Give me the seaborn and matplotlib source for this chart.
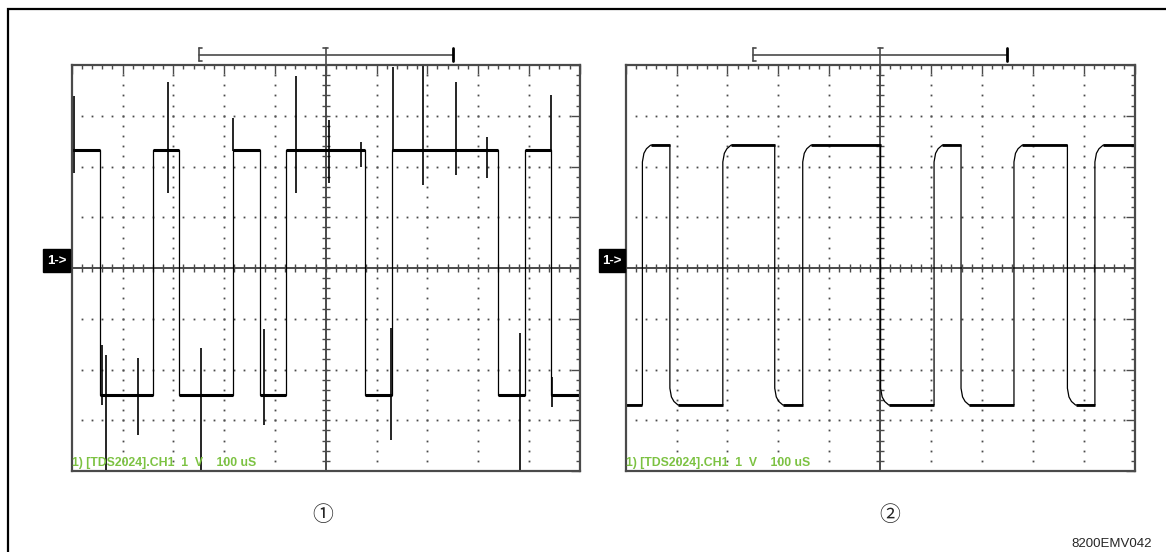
import numpy as np
import matplotlib
matplotlib.use('Agg')
import matplotlib.pyplot as plt
from matplotlib.patches import Rectangle
import seaborn as sns

# time in us (100 us/div, screen centre = 0), level in V (1 V/div)
t_span = [-500, 500]

# screen 1 (noisy signal): switching times, trace starts high
edges_1 = [-444, -340, -288, -182, -130, -78, 77, 131, 340, 393, 444]
high_1 = 2.33
low_1 = -2.50
# glitches on screen 1: time, lower end, upper end
glitch_t_1 = [-496, -310, -182, -59, 7, 69, 133, 192, 257, 318, 443,
              -441, -432, -370, -245, -121, 129, 383, 446]
glitch_lo_1 = [1.87, 1.47, 2.30, 1.47, 1.67, 2.00, 2.30, 1.64, 1.83, 1.77, 2.30,
               -2.70, -3.98, -3.29, -3.98, -3.09, -3.39, -3.98, -2.73]
glitch_hi_1 = [3.38, 3.67, 2.95, 3.78, 2.92, 2.49, 3.97, 3.99, 3.67, 2.59, 3.41,
               -1.52, -1.71, -1.78, -1.58, -1.21, -1.19, -1.29, -2.14]

# screen 2 (filtered signal): switching times, trace starts low
edges_2 = [-467, -413, -309, -207, -152, 1, 106, 159, 263, 368, 422]
high_2 = 2.42
low_2 = -2.70

scope_text = '1) [TDS2024].CH1  1  V    100 uS'
labels = ['\u2460', '\u2461']
doc_id = '8200EMV042'

GRID = '#4a4a4a'
GREEN = '#7cc242'
W, H = 1166, 552


def build_trace(edges, start_high, hi, lo, knee):
    xs, ys = [t_span[0]], [hi if start_high else lo]
    flats = []
    is_high = start_high
    flat_start = t_span[0]
    for e in edges:
        cur = hi if is_high else lo
        flats.append((flat_start, e, cur))
        xs.append(e)
        ys.append(cur)
        is_high = not is_high
        new = hi if is_high else lo
        sign = 1 if is_high else -1
        for dt, dv in knee:
            xs.append(e + dt)
            ys.append(new - sign * dv)
        flat_start = e + knee[-1][0]
    end = hi if is_high else lo
    xs.append(t_span[1])
    ys.append(end)
    flats.append((flat_start, t_span[1], end))
    return xs, ys, flats


def draw_screen(ax):
    ax.set_xlim(*t_span)
    ax.set_ylim(-4, 4)
    ax.set_xticks(np.arange(-500, 501, 100))
    ax.set_xticks(np.arange(-500, 501, 20), minor=True)
    ax.set_yticks(np.arange(-4, 5, 1))
    ax.set_yticks(np.arange(-4, 4.01, 0.2), minor=True)
    ax.tick_params(which='both', direction='in', top=True, right=True,
                   labelbottom=False, labelleft=False, color=GRID, width=1)
    ax.tick_params(which='major', length=6.5)
    ax.tick_params(which='minor', length=3)
    for s in ax.spines.values():
        s.set_color(GRID)
        s.set_linewidth(1.6)
    # dotted graticule
    yy = np.arange(-3.8, 3.81, 0.2)
    xx = np.arange(-480, 481, 20)
    for gx in range(-400, 401, 100):
        if gx != 0:
            ax.plot(np.full_like(yy, gx), yy, ls='none', marker='s', ms=1.3,
                    mew=0, color=GRID)
    for gy in range(-3, 4):
        if gy != 0:
            ax.plot(xx, np.full_like(xx, gy, dtype=float), ls='none', marker='s',
                    ms=1.3, mew=0, color=GRID)
    # centre cross with ticks
    ax.axhline(0, color=GRID, lw=1.4)
    ax.axvline(0, color=GRID, lw=1.4)
    ax.plot(xx, np.zeros_like(xx), ls='none', marker='|', ms=6, mew=1, color=GRID)
    ax.plot(np.zeros_like(yy), yy, ls='none', marker='_', ms=6, mew=1, color=GRID)
    # trigger bracket above the screen
    kw = dict(color=GRID, lw=1.2, clip_on=False)
    ax.plot([-250, 250], [4.2, 4.2], **kw)
    ax.plot([-250, -250], [4.08, 4.33], **kw)
    ax.plot([-250, -243], [4.33, 4.33], **kw)
    ax.plot([-250, -243], [4.08, 4.08], **kw)
    ax.plot([250, 250], [4.08, 4.33], color='black', lw=2, clip_on=False)
    ax.plot([0, 0], [4.0, 4.33], **kw)
    ax.plot([-5, 5], [4.33, 4.33], **kw)
    ax.text(-500, -3.97, scope_text, color=GREEN, fontsize=8.8, fontweight='bold',
            ha='left', va='bottom', family=['Liberation Sans Narrow', 'Liberation Sans'])


sns.set_style('white')
plt.rcParams['font.family'] = ['Liberation Sans Narrow', 'Liberation Sans', 'DejaVu Sans']

fig = plt.figure(figsize=(W / 100, H / 100), dpi=100)

ax1 = fig.add_axes([71.7 / W, 1 - 471 / H, 508 / W, 406 / H])
ax2 = fig.add_axes([625.6 / W, 1 - 471 / H, 509 / W, 406 / H])

for ax in (ax1, ax2):
    draw_screen(ax)

# screen 1
x1, y1, flats1 = build_trace(edges_1, True, high_1, low_1, [(0, 0.0)])
sns.lineplot(x=x1, y=y1, estimator=None, sort=False, color='black', lw=0.9, ax=ax1)
for a, b, lvl in flats1:
    ax1.plot([a, b], [lvl, lvl], color='black', lw=2.2, solid_capstyle='butt')
ax1.vlines(glitch_t_1, glitch_lo_1, glitch_hi_1, color='black', lw=1.2)

# screen 2
knee = [(0, 0.33), (3, 0.16), (8, 0.07), (16, 0.0)]
x2, y2, flats2 = build_trace(edges_2, False, high_2, low_2, knee)
sns.lineplot(x=x2, y=y2, estimator=None, sort=False, color='black', lw=0.9, ax=ax2)
for a, b, lvl in flats2:
    ax2.plot([a, b], [lvl, lvl], color='black', lw=2.0, solid_capstyle='butt')

for ax in (ax1, ax2):
    ax.set_xlabel('')
    ax.set_ylabel('')

# channel markers "1->"
for x0 in (43.3, 598.7):
    fig.add_artist(Rectangle((x0 / W, 1 - 272 / H), 26.5 / W, 23 / H,
                             transform=fig.transFigure, color='black'))
    fig.text((x0 + 13.2) / W, 1 - 260.5 / H, '1->', color='white', fontsize=9.5,
             fontweight='bold', ha='center', va='center', family=['Liberation Sans', 'DejaVu Sans'])

# outer frame
fig.add_artist(Rectangle((8.4 / W, -0.05), 1.1, 1.05 - 9 / H, transform=fig.transFigure,
                         fill=False, edgecolor='black', lw=1.6))

fig.text(322.6 / W, 1 - 515 / H, labels[0], fontsize=15, ha='center', va='center',
         family=['Noto Sans CJK JP', 'DejaVu Sans'])
fig.text(889.4 / W, 1 - 515 / H, labels[1], fontsize=15, ha='center', va='center',
         family=['Noto Sans CJK JP', 'DejaVu Sans'])
fig.text(1152 / W, 1 - 544 / H, doc_id, fontsize=9.5, ha='right', va='center')

fig.savefig('out.png', dpi=100)
